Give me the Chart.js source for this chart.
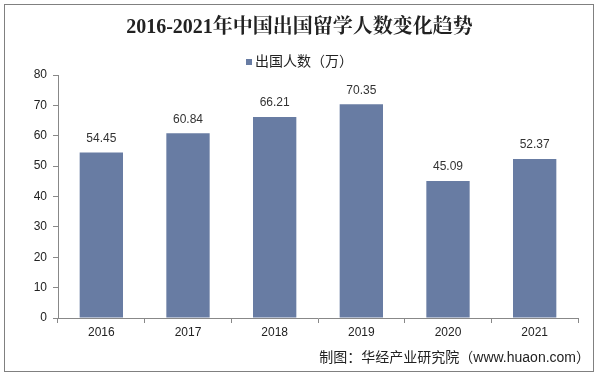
<!DOCTYPE html>
<html>
<head>
<meta charset="utf-8">
<script src="https://cdn.jsdelivr.net/npm/chart.js@4.4.1/dist/chart.umd.min.js"></script>
<style>
html,body{margin:0;padding:0;background:#fff;}
#wrap{position:absolute;left:0;top:0;width:599px;height:377px;}
#frame{position:absolute;left:4px;top:4px;width:590px;height:368px;border:1px solid #808080;box-sizing:border-box;pointer-events:none;}
</style>
</head>
<body>
<div id="wrap"><canvas id="c" width="599" height="377"></canvas></div>
<div id="frame"></div>
<script>
const categories = ['2016','2017','2018','2019','2020','2021'];
const seriesName = '出国人数（万）';
const values = [54.45, 60.84, 66.21, 70.35, 45.09, 52.37];
const yTicks = [0,10,20,30,40,50,60,70,80];
const titleText = '2016-2021年中国出国留学人数变化趋势';
const sourceText = '制图：华经产业研究院（www.huaon.com）';

const barColor = '#687ca3';
const baseFont = 'Arial, "Liberation Sans", "Noto Sans CJK SC", sans-serif';

const decorPlugin = {
  id: 'decor',
  afterDraw(chart) {
    const ctx = chart.ctx;
    ctx.save();
    ctx.textBaseline = 'middle';
    // title
    ctx.font = 'bold 20px "Liberation Serif", "Noto Serif CJK SC", "Noto Sans CJK SC", serif';
    ctx.fillStyle = '#222';
    ctx.textAlign = 'center';
    ctx.fillText(titleText, 299.5, 28);
    // legend
    ctx.font = '14px ' + baseFont;
    const tw = ctx.measureText(seriesName).width;
    const total = 6 + 3 + tw;
    const lx = 299.5 - total / 2;
    ctx.fillStyle = barColor;
    ctx.fillRect(Math.round(lx), 59, 6, 6);
    ctx.fillStyle = '#222';
    ctx.textAlign = 'left';
    ctx.fillText(seriesName, lx + 9, 62);
    // source
    ctx.textAlign = 'right';
    ctx.fillText(sourceText, 590, 358);
    ctx.restore();
  },
  afterDatasetsDraw(chart) {
    const ctx = chart.ctx;
    const meta = chart.getDatasetMeta(0);
    ctx.save();
    ctx.font = '12px ' + baseFont;
    ctx.fillStyle = '#333';
    ctx.textAlign = 'center';
    ctx.textBaseline = 'middle';
    meta.data.forEach((bar, i) => {
      ctx.fillText(values[i].toFixed(2), bar.x, bar.y - 14);
    });
    ctx.restore();
  }
};

new Chart(document.getElementById('c'), {
  type: 'bar',
  data: {
    labels: categories,
    datasets: [{
      label: seriesName,
      data: values,
      backgroundColor: barColor,
      borderWidth: 0,
      barPercentage: 0.5,
      categoryPercentage: 1.0
    }]
  },
  options: {
    responsive: false,
    animation: false,
    devicePixelRatio: 1,
    layout: { padding: { left: 3, right: 21, top: 75, bottom: 29 } },
    plugins: {
      title: { display: false },
      legend: { display: false },
      tooltip: { enabled: false }
    },
    scales: {
      x: {
        grid: { display: true, drawOnChartArea: false, tickLength: 5, color: '#888', offset: true },
        border: { display: true, color: '#888' },
        ticks: { color: '#222', font: { family: baseFont, size: 12 }, padding: 2 },
        afterFit(s) { s.height = 30; }
      },
      y: {
        min: 0, max: 80,
        afterBuildTicks(s) { s.ticks = yTicks.map(v => ({ value: v })); },
        grid: { display: true, drawOnChartArea: false, tickLength: 5, color: '#888' },
        border: { display: true, color: '#888' },
        ticks: { color: '#222', font: { family: baseFont, size: 12 }, padding: 6 },
        afterFit(s) { s.width = 55; }
      }
    }
  },
  plugins: [decorPlugin]
});
</script>
</body>
</html>
